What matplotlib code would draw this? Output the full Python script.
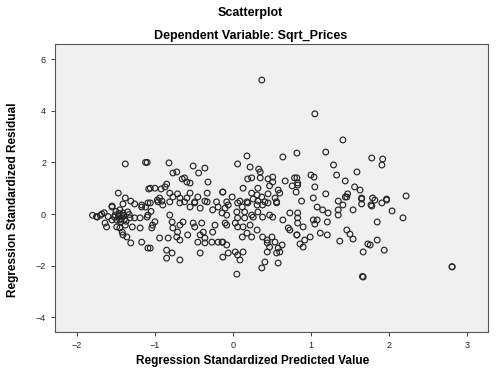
import matplotlib

matplotlib.use("Agg")
import matplotlib.pyplot as plt
import numpy as np

# standardized predicted value (x) and standardized residual (y)
pred = [
    -1.38, -1.12, -1.08, -1.47, -1.38, -1.31, -1.26, -1.41, -1.55, -1.17, -1.12,
    -1.45, -1.74, -1.68, -1.64, -1.62, -1.55, -1.51, -1.49, -1.45, -1.42, -1.41,
    -1.36, -1.31, -1.38, -1.32, -1.29, -1.26, -1.19, -1.19, -1.17, -1.09, -1.10,
    -1.35, -1.45, -1.55, -1.17, -1.41, -1.49,
    -1.80, -1.75, -1.70, -1.65, -1.60, -1.52, -1.47, -1.43, -1.40, -1.37, -1.33,
    -1.46, -1.44, -1.42, -1.39, -1.50, -1.05, -1.00,
    -1.10, -0.82, -0.51, -0.36, -0.77, -0.72, -0.44, -0.65, -0.62, -0.59, -0.55,
    -0.32, -1.06, -1.00, -0.92, -0.87, -0.85, -0.13, -0.33, -0.45, -0.55, -0.81,
    -0.77, -0.71, -0.68, -0.94, -0.97, -1.06, -0.91, -0.59, -0.49, -0.36, -0.21,
    -1.09, -0.96, -0.90, -0.81, -0.68, -0.62, -0.55, -0.49, -0.42, -0.33, -0.26,
    -0.19, -0.14, -1.09, -1.03, -1.04, -0.81, -0.78, -0.77, -0.68, -0.64, -0.71,
    -0.72, -0.68, -0.51, -0.49, -0.58, -0.40, -0.38, -0.42, -0.36, -0.45, -0.36,
    -0.27, -0.26, -0.23, -0.19, -0.13, -0.94, -0.83, -1.06, -0.85, -0.78, -0.85,
    -0.68, -0.42, -0.13,
    0.18, 0.64, 0.82, 0.06, 0.22, 0.33, 0.35, 0.24, 0.19, 0.35, 0.45, 0.51,
    0.51, 0.47, 0.79, 0.67, 0.76, 0.83, 0.81, 0.13, 0.32, 0.58, 0.60, -0.13,
    -0.01, 0.24, 0.31, 0.26, 0.37, 0.45, 0.54, 0.09, 0.18, 0.32, 0.41, 0.56,
    -0.08,
    -0.06, 0.06, 0.12, 0.19, 0.31, 0.38, 0.45, 0.56, -0.10, -0.08, -0.10, -0.08,
    0.05, 0.15, 0.06, 0.15, 0.24, 0.26, 0.32, 0.38, 0.47, 0.51, 0.03, 0.06,
    0.13, 0.22, 0.31, 0.18, 0.24, 0.12, 0.73, 0.64, 0.71, 0.73, 0.82, 0.38,
    0.44, 0.50, 0.54, 0.44, 0.47, 0.58, 0.63, 0.44, 0.56, 0.60, -0.14, -0.08,
    -0.06, 0.03, 0.06, 0.13, 0.09, 0.41, 0.37, 0.58, 0.05, 0.37,
    1.05, 1.41, 1.19, 1.78, 1.29, 1.33, 1.59, 1.00, 1.04, 1.44, 1.56, 1.63,
    0.82, 0.83, 1.05, 1.19, 1.47, 1.44, 1.65, 1.03, 1.79,
    0.88, 1.08, 1.15, 1.22, 1.35, 1.35, 1.35, 1.41, 1.46, 1.54, 1.65, 1.65,
    1.77, 0.83, 0.83, 0.83, 0.90, 1.03, 1.08, 1.05, 1.21, 1.12, 1.21, 0.82,
    0.99, 0.92, 0.86, 0.90, 1.37, 1.46, 1.50, 1.54, 1.73, 1.67, 1.67, 1.66,
    1.92, 1.91, 1.82, 1.97, 2.22, 1.91, 1.97, 2.04, 1.78, 2.18, 1.85, 1.85,
    1.76, 1.94, 2.81, 2.81,
]
resid = [
    1.94, 2.00, 0.97, 0.81, 0.62, 0.50, 0.39, 0.39, 0.31, 0.35, 0.27,
    -0.23, -0.12, 0.00, -0.35, -0.50, -0.23, -0.04, -0.50, -0.54, -0.70, -0.81,
    -0.89, -1.12, -0.43, -0.15, -0.50, -0.15, -0.54, -0.15, -1.09, -1.32, -0.12,
    0.08, 0.16, 0.27, 0.27, 0.04, -0.23,
    -0.05, -0.10, -0.05, 0.05, -0.10, -0.12, -0.08, -0.18, -0.05, -0.28, -0.02,
    0.02, -0.30, -0.10, -0.20, 0.10, 0.10, -0.30,
    2.00, 1.98, 1.86, 1.78, 1.59, 1.63, 1.59, 1.36, 1.40, 1.24, 1.20,
    1.24, 1.00, 1.00, 0.97, 1.05, 1.16, 0.85, 0.81, 0.66, 0.81, 0.81,
    0.66, 0.78, 0.62, 0.62, 0.54, 0.43, 0.50, 0.62, 0.47, 0.50, 0.47,
    0.43, 0.47, 0.35, 0.47, 0.43, 0.47, 0.27, 0.43, 0.23, 0.47, 0.16,
    0.27, 0.04, -0.04, -0.43, -0.54, -0.04, -0.31, -0.54, -0.43, -0.31, -0.70,
    -0.89, -1.01, -0.35, -0.50, -0.81, -0.35, -0.70, -0.81, -0.93, -1.09, -1.12,
    -1.09, -0.70, -0.43, -1.09, -1.09, -0.93, -0.93, -1.32, -1.40, -1.51, -1.71,
    -1.78, -1.51, -1.67,
    2.25, 2.21, 2.36, 1.94, 1.82, 1.74, 1.63, 1.40, 1.36, 1.40, 1.36, 1.43,
    1.24, 1.09, 1.40, 1.28, 1.09, 1.20, 0.85, 1.00, 1.00, 0.93, 0.81, 0.85,
    0.66, 0.81, 0.74, 0.58, 0.66, 0.78, 0.62, 0.50, 0.47, 0.50, 0.47, 0.47,
    0.47,
    0.35, 0.43, 0.27, 0.43, 0.35, 0.35, 0.43, 0.43, 0.23, -0.04, -0.35, -0.43,
    0.08, 0.08, -0.15, -0.15, -0.04, -0.12, 0.08, -0.12, -0.04, -0.12, -0.35, -0.50,
    -0.50, -0.43, -0.62, -0.74, -0.89, -0.89, 0.04, -0.23, -0.54, -0.62, -0.81, -0.89,
    -1.01, -0.89, -1.09, -1.12, -1.28, -1.32, -1.20, -1.47, -1.51, -1.47, -1.09, -1.20,
    -1.51, -1.47, -1.59, -1.47, -1.78, -1.86, -2.09, -1.90, -2.33, 5.19,
    3.88, 2.87, 2.40, 2.17, 1.90, 1.51, 1.63, 1.51, 1.43, 1.28, 1.05, 0.93,
    1.40, 1.12, 1.05, 0.78, 0.78, 0.66, 0.62, 0.62, 0.62,
    0.50, 0.27, 0.16, 0.04, 0.50, 0.16, -0.04, 0.35, 0.66, 0.16, 0.58, 0.39,
    0.35, 0.04, -0.15, -0.35, -0.50, -0.23, -0.23, -0.39, -0.31, -0.74, -0.81, -0.81,
    -0.89, -1.01, -1.16, -1.28, -1.05, -0.62, -0.78, -0.97, -1.16, -1.47, -2.44, -2.42,
    2.13, 1.90, 0.54, 0.58, 0.70, 0.43, 0.54, 0.12, 0.31, -0.15, -0.31, -1.01,
    -1.20, -1.40, -2.05, -2.04,
]

x_ticks = [-2, -1, 0, 1, 2, 3]
y_ticks = [-4, -2, 0, 2, 4, 6]

plt.rcParams.update({
    "font.family": "sans-serif",
    "font.sans-serif": ["Liberation Sans", "DejaVu Sans"],
})

fig = plt.figure(figsize=(5.01, 3.82), dpi=100)
ax = fig.add_axes([0.110, 0.131, 0.864, 0.754])
ax.set_facecolor("#f0f0f0")

ax.scatter(pred, resid, s=17, facecolors="none", edgecolors="#262626",
           linewidths=0.85, zorder=3)

ax.set_xlim(-2.28, 3.27)
ax.set_ylim(-4.57, 6.59)
ax.set_xticks(x_ticks)
ax.set_yticks(y_ticks)
ax.tick_params(labelsize=6.5, length=3, width=0.6, colors="#222")
for s in ax.spines.values():
    s.set_linewidth(0.8)
    s.set_color("#555")

# SPSS centres the axis titles on the whole chart, not on the plot area
fig.text(0.505, 0.055, "Regression Standardized Predicted Value", ha="center",
         va="center", fontsize=8.5, fontweight="bold")
fig.text(0.026, 0.478, "Regression Standardized Residual", ha="center",
         va="center", rotation=90, fontsize=8.5, fontweight="bold")
fig.text(0.5, 0.966, "Scatterplot", ha="center", va="center",
         fontsize=9, fontweight="bold")
fig.text(0.5, 0.906, "Dependent Variable: Sqrt_Prices", ha="center",
         va="center", fontsize=9, fontweight="bold")

fig.savefig("out.png", dpi=100)
